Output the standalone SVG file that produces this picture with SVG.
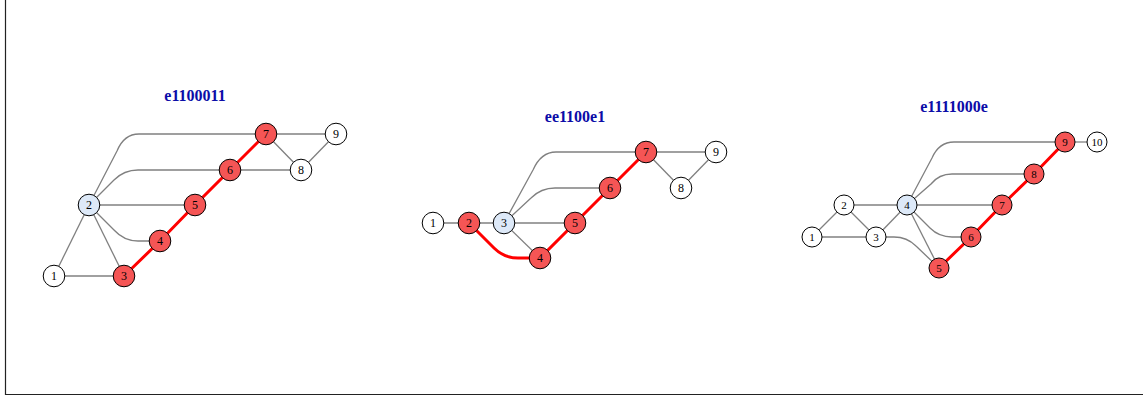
<svg xmlns="http://www.w3.org/2000/svg" width="1143" height="397" viewBox="0 0 1143 397">
<style>
.t{font-family:"Liberation Serif",serif;font-weight:bold;font-size:16px;fill:#0c0ca8;text-anchor:middle}
.e{fill:none;stroke:#808080;stroke-width:1.3}
.r{fill:none;stroke:#ff0000;stroke-width:3}
.n circle{stroke:#000;stroke-width:1}
.w{fill:#fff}.p{fill:#f55555}.b{fill:#dde9f8}
.n text{font-family:"Liberation Serif",serif;font-size:12px;fill:#000;text-anchor:middle}
.s text{font-size:11px}
</style>
<rect x="0" y="0" width="1143" height="397" fill="#fff"/>
<path d="M5.5 0 V394.5 H1143" fill="none" stroke="#222" stroke-width="1.2"/>

<g id="graph1">
<text class="t" x="195" y="101">e1100011</text>
<g id="g1-edges">
<path class="e" d="M54 276 L89 205"/>
<path class="e" d="M54 276 H124"/>
<path class="e" d="M89 205 L124 276"/>
<path class="e" d="M89 205 L114 230 Q124 241 138 241 H160"/>
<path class="e" d="M89 205 H195"/>
<path class="e" d="M89 205 L114 180 Q124 170 138 170 H230"/>
<path class="e" d="M89 205 L117 151 Q124 134 139 134 H266"/>
<path class="e" d="M230 170 H301"/>
<path class="e" d="M266 134 L301 170"/>
<path class="e" d="M266 134 H336"/>
<path class="e" d="M301 170 L336 134"/>
<path class="r" d="M124 276 L160 241 L195 205 L230 170 L266 134"/>
</g>
<g id="g1-n1" class="n"><circle class="w" cx="54" cy="276" r="10.8"/><text x="54" y="280">1</text></g>
<g id="g1-n2" class="n"><circle class="b" cx="89" cy="205" r="10.8"/><text x="89" y="209">2</text></g>
<g id="g1-n3" class="n"><circle class="p" cx="124" cy="276" r="10.8"/><text x="124" y="280">3</text></g>
<g id="g1-n4" class="n"><circle class="p" cx="160" cy="241" r="10.8"/><text x="160" y="245">4</text></g>
<g id="g1-n5" class="n"><circle class="p" cx="195" cy="205" r="10.8"/><text x="195" y="209">5</text></g>
<g id="g1-n6" class="n"><circle class="p" cx="230" cy="170" r="10.8"/><text x="230" y="174">6</text></g>
<g id="g1-n7" class="n"><circle class="p" cx="266" cy="134" r="10.8"/><text x="266" y="138">7</text></g>
<g id="g1-n8" class="n"><circle class="w" cx="301" cy="170" r="10.8"/><text x="301" y="174">8</text></g>
<g id="g1-n9" class="n"><circle class="w" cx="336" cy="134" r="10.8"/><text x="336" y="138">9</text></g>
</g>

<g id="graph2">
<text class="t" x="575" y="122">ee1100e1</text>
<g id="g2-edges">
<path class="e" d="M433 223 H504"/>
<path class="e" d="M504 223 H575"/>
<path class="e" d="M504 223 L540 258"/>
<path class="e" d="M504 223 L531 198 Q541 188 555 188 H610"/>
<path class="e" d="M504 223 L533 170 Q541 152 556 152 H646"/>
<path class="e" d="M646 152 H716"/>
<path class="e" d="M646 152 L681 188"/>
<path class="e" d="M681 188 L716 152"/>
<path class="r" d="M469 223 L494 248 Q504 258 518 258 H540"/>
<path class="r" d="M540 258 L575 223 L610 188 L646 152"/>
</g>
<g id="g2-n1" class="n"><circle class="w" cx="433" cy="223" r="10.8"/><text x="433" y="227">1</text></g>
<g id="g2-n2" class="n"><circle class="p" cx="469" cy="223" r="10.8"/><text x="469" y="227">2</text></g>
<g id="g2-n3" class="n"><circle class="b" cx="504" cy="223" r="10.8"/><text x="504" y="227">3</text></g>
<g id="g2-n4" class="n"><circle class="p" cx="540" cy="258" r="10.8"/><text x="540" y="262">4</text></g>
<g id="g2-n5" class="n"><circle class="p" cx="575" cy="223" r="10.8"/><text x="575" y="227">5</text></g>
<g id="g2-n6" class="n"><circle class="p" cx="610" cy="188" r="10.8"/><text x="610" y="192">6</text></g>
<g id="g2-n7" class="n"><circle class="p" cx="646" cy="152" r="10.8"/><text x="646" y="156">7</text></g>
<g id="g2-n8" class="n"><circle class="w" cx="681" cy="188" r="10.8"/><text x="681" y="192">8</text></g>
<g id="g2-n9" class="n"><circle class="w" cx="716" cy="152" r="10.8"/><text x="716" y="156">9</text></g>
</g>

<g id="graph3">
<text class="t" x="954" y="112">e1111000e</text>
<g id="g3-edges">
<path class="e" d="M812 237 L844 205"/>
<path class="e" d="M812 237 H876"/>
<path class="e" d="M844 205 L876 237"/>
<path class="e" d="M844 205 H907"/>
<path class="e" d="M876 237 L907 205"/>
<path class="e" d="M876 237 H894 Q907 237 916 246 L939 268"/>
<path class="e" d="M907 205 L939 268"/>
<path class="e" d="M907 205 L930 228 Q939 237 952 237 H971"/>
<path class="e" d="M907 205 H1002"/>
<path class="e" d="M907 205 L931 184 Q939 174 952 174 H1034"/>
<path class="e" d="M907 205 L932 158 Q939 142 954 142 H1065"/>
<path class="e" d="M1065 142 H1097"/>
<path class="r" d="M939 268 L971 237 L1002 205 L1034 174 L1065 142"/>
</g>
<g class="n s">
<g id="g3-n1"><circle class="w" cx="812" cy="237" r="10"/><text x="812" y="241">1</text></g>
<g id="g3-n2"><circle class="w" cx="844" cy="205" r="10"/><text x="844" y="209">2</text></g>
<g id="g3-n3"><circle class="w" cx="876" cy="237" r="10"/><text x="876" y="241">3</text></g>
<g id="g3-n4"><circle class="b" cx="907" cy="205" r="10"/><text x="907" y="209">4</text></g>
<g id="g3-n5"><circle class="p" cx="939" cy="268" r="10"/><text x="939" y="272">5</text></g>
<g id="g3-n6"><circle class="p" cx="971" cy="237" r="10"/><text x="971" y="241">6</text></g>
<g id="g3-n7"><circle class="p" cx="1002" cy="205" r="10"/><text x="1002" y="209">7</text></g>
<g id="g3-n8"><circle class="p" cx="1034" cy="174" r="10"/><text x="1034" y="178">8</text></g>
<g id="g3-n9"><circle class="p" cx="1065" cy="142" r="10"/><text x="1065" y="146">9</text></g>
<g id="g3-n10"><circle class="w" cx="1097" cy="142" r="10"/><text x="1097" y="146">10</text></g>
</g>
</g>
</svg>
